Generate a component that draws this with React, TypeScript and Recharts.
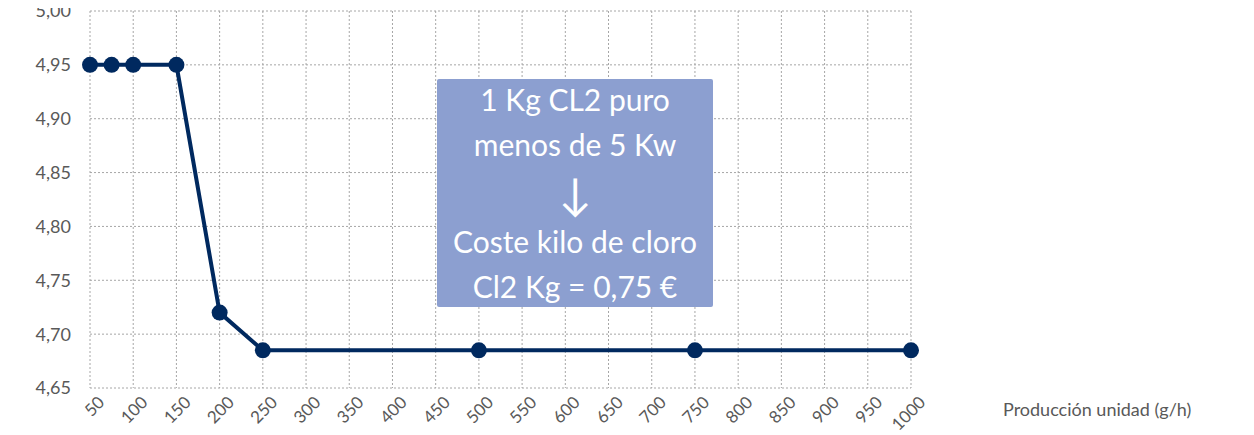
import * as React from "react";
import { LineChart, Line, XAxis, YAxis, CartesianGrid } from "recharts";

// Producción unidad (g/h) vs. coste (€)
const production = [50, 75, 100, 150, 200, 250, 500, 750, 1000];
const cost = [4.95, 4.95, 4.95, 4.95, 4.72, 4.685, 4.685, 4.685, 4.685];

const xTicks = [50, 100, 150, 200, 250, 300, 350, 400, 450, 500, 550, 600, 650, 700, 750, 800, 850, 900, 950, 1000];
const yTicks = [4.65, 4.7, 4.75, 4.8, 4.85, 4.9, 4.95, 5.0];

const boxLines = ["1 Kg CL2 puro", "menos de 5 Kw", "↓", "Coste kilo de cloro", "Cl2 Kg = 0,75 €"];
const xTitle = "Producción unidad (g/h)";

const NAVY = "#00295F";
const GREY_TEXT = "#595959";
const GRID = "#a6a6a6";
const FONT = "Lato, 'Open Sans', sans-serif";

const data = production.map((p, i) => ({ p, v: cost[i] }));

const fmt = (v: number) => v.toFixed(2).replace(".", ",");

function XTick(props: any) {
  const { x, y, payload } = props;
  const ax = x + 11;
  const ay = y + 11;
  return (
    <text
      x={ax}
      y={ay}
      transform={`rotate(-45, ${ax}, ${ay})`}
      textAnchor="end"
      dominantBaseline="central"
      fontSize={17}
      fill={GREY_TEXT}
      fontFamily={FONT}
    >
      {payload.value}
    </text>
  );
}

export default function App() {
  return (
    <div style={{ position: "relative", width: 1254, height: 435, margin: "-8px 0 0 -8px", fontFamily: FONT }}>
      <LineChart width={1254} height={435} data={data} margin={{ top: 11, right: 343, bottom: 0, left: 0 }}>
        <CartesianGrid stroke={GRID} strokeDasharray="2 2" />
        <XAxis
          dataKey="p"
          type="number"
          domain={[50, 1000]}
          ticks={xTicks}
          interval={0}
          axisLine={false}
          tickLine={false}
          tickSize={0}
          tickMargin={0}
          tick={<XTick />}
          height={47}
        />
        <YAxis
          type="number"
          domain={[4.65, 5.0]}
          ticks={yTicks}
          tickFormatter={fmt}
          axisLine={false}
          tickLine={false}
          tickSize={0}
          tickMargin={19}
          width={90}
          tick={{ fontSize: 18, fill: GREY_TEXT, fontFamily: FONT }}
        />
        <Line
          type="linear"
          dataKey="v"
          stroke={NAVY}
          strokeWidth={4}
          dot={{ r: 8, fill: NAVY, stroke: NAVY, strokeWidth: 0 }}
          isAnimationActive={false}
        />
      </LineChart>
      <div
        style={{
          position: "absolute",
          left: 437,
          top: 79,
          width: 276,
          height: 228,
          background: "#8C9FD0",
          color: "#fff",
          borderRadius: 2,
          display: "flex",
          flexDirection: "column",
          alignItems: "center",
          justifyContent: "center",
          fontSize: 30,
          lineHeight: "45px",
          textAlign: "center",
          whiteSpace: "nowrap",
        }}
      >
        {boxLines.map((t, i) => (
          <div key={i} style={t === "↓" ? { fontSize: 44, lineHeight: "52px" } : undefined}>
            {t}
          </div>
        ))}
      </div>
      <div
        style={{
          position: "absolute",
          left: 1003,
          top: 398,
          fontSize: 18,
          color: GREY_TEXT,
          whiteSpace: "nowrap",
        }}
      >
        {xTitle}
      </div>
    </div>
  );
}
